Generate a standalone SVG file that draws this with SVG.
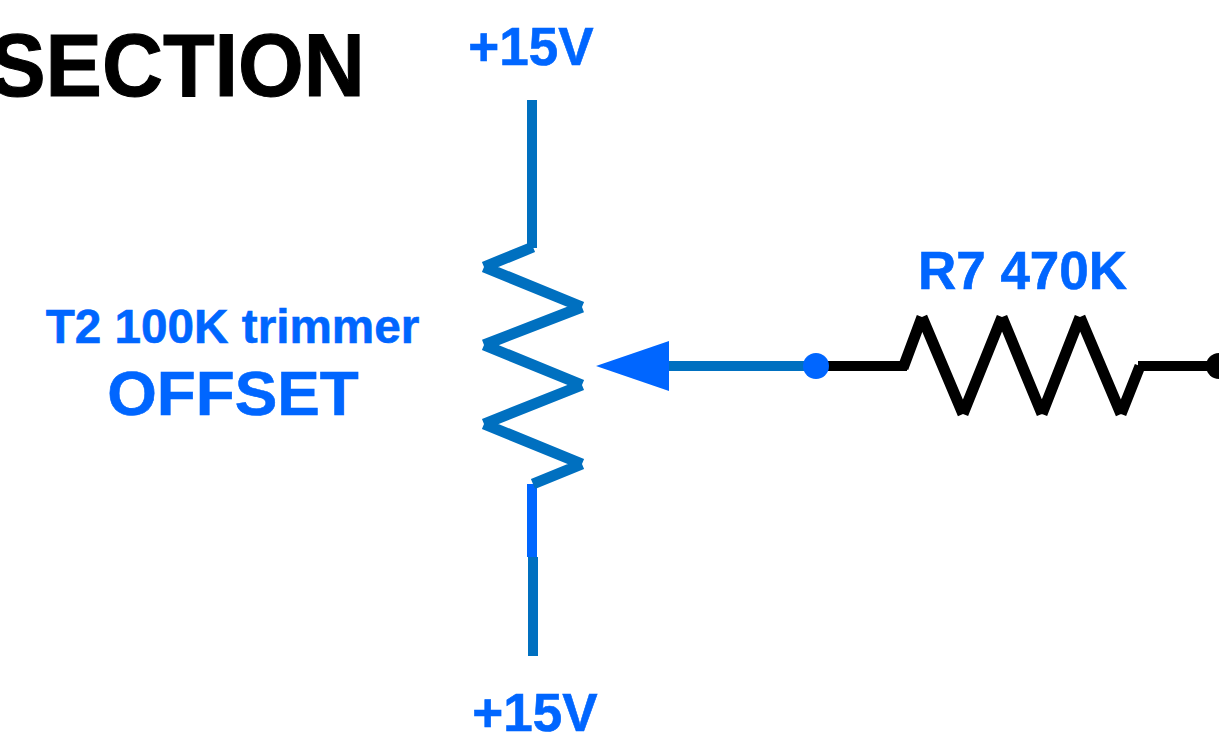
<svg xmlns="http://www.w3.org/2000/svg" width="1219" height="748" viewBox="0 0 1219 748">
<style>
text{font-family:"Liberation Sans",Arial,sans-serif;font-weight:bold;text-anchor:middle}
.b{fill:#0066ff;stroke:#0066ff;stroke-width:.6}
.w{fill:none;stroke-width:10;stroke-linecap:butt}
.z{stroke-width:11}
.t{stroke:#0070c0}
.k{stroke:#000}
</style>
<rect width="1219" height="748" fill="#fff"/>
<g id="title"><text transform="translate(177 96) scale(1 1.05)" font-size="84.500" fill="#000" stroke="#000" stroke-width="1">SECTION</text></g>
<g id="labels">
<text class="b" x="531" y="65" font-size="53">+15V</text>
<text class="b" x="535" y="731" font-size="53">+15V</text>
<text class="b" x="232.500" y="343" font-size="47.700">T2 100K trimmer</text>
<text class="b" x="233" y="415" font-size="63.800">OFFSET</text>
<text class="b" x="1022.500" y="289" font-size="53">R7 470K</text>
</g>
<g id="connectors">
<path class="w t" d="M532 100V248"/>
<path class="w t" d="M533 557V656"/>
<path d="M532 484V557" fill="none" stroke="#0066ff" stroke-width="10"/>
<path class="w t" d="M668 366H816"/>
<path class="w k" d="M828 366H907"/>
<path class="w k" d="M1138 366H1219"/>
</g>
<g id="T2"><path class="w z t" d="M533 247L484 267M484 267L582 307M582 307L484 345M484 345L582 385M582 385L484 424M484 424L582 464M582 464L533 484"/>
<polygon points="596,366 669,341 669,391" fill="#0066ff"/></g>
<g id="R7"><path class="w z k" d="M903 368L922 317M922 317L963 414M963 414L1002 317M1002 317L1042 414M1042 414L1080 317M1080 317L1121 414M1121 414L1140 366"/></g>
<g id="junctions"><circle cx="816" cy="366" r="13" fill="#0066ff"/><circle cx="1219" cy="366" r="13" fill="#000"/></g>
</svg>
